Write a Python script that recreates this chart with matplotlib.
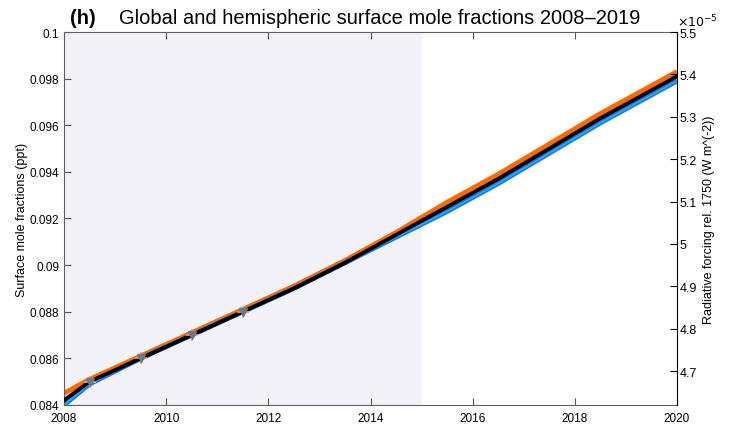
import numpy as np
from matplotlib import pyplot as plt
from matplotlib.ticker import FuncFormatter

plt.rcParams['font.family'] = ['Liberation Sans', 'DejaVu Sans']

# annual-ish model output (ppt)
years = [2008, 2008.5, 2009.5, 2010.5, 2011.5, 2012.5, 2013.5, 2014.5,
         2015.5, 2016.5, 2017.5, 2018.5, 2019.5, 2020]
glob = [0.0842, 0.0850, 0.0860, 0.0870, 0.0880, 0.0890, 0.0901, 0.0913,
        0.0925, 0.0937, 0.0950, 0.0963, 0.0975, 0.0981]
nh = [0.0845, 0.0851, 0.0861, 0.0871, 0.0881, 0.0891, 0.0902, 0.0914,
      0.0927, 0.0939, 0.0952, 0.0965, 0.0977, 0.0983]
sh = [0.0840, 0.0849, 0.0860, 0.0870, 0.0880, 0.0890, 0.0901, 0.0912,
      0.0923, 0.0935, 0.0948, 0.0961, 0.0973, 0.0979]

# observations
obs_years = [2008.5, 2009.5, 2010.5, 2011.5]
obs_vals = [0.0850, 0.0860, 0.0870, 0.0880]

rad_eff = 0.00055  # W m^-2 per ppt

fig = plt.figure(figsize=(7.31, 4.27), dpi=100)
ax = fig.add_axes([0.0876, 0.0492, 0.8386, 0.8735])

ax.axvspan(2008, 2015, color='#f3f2f8', lw=0, zorder=0)

ax.plot(years, nh, color='#ff6a00', lw=3.5, solid_capstyle='butt', zorder=2)
ax.plot(years, sh, color='#1a7ae8', lw=3.5, solid_capstyle='butt', zorder=2)
ax.plot(years, sh, color='#2ab0f0', lw=1, zorder=2)
ax.plot(years, glob, color='black', lw=2.8, zorder=3)

ax.plot(obs_years, obs_vals, '+', color='#f0a070', ms=9, mew=1.2, zorder=4)
ax.plot(obs_years, obs_vals, 'v', color='#6a7888', ms=6, zorder=5)

ax.set_xlim(2008, 2020)
ax.set_ylim(0.084, 0.1)
ax.set_xticks(np.arange(2008, 2021, 2))
ax.set_yticks(np.arange(0.084, 0.1001, 0.002))
ax.yaxis.set_major_formatter(FuncFormatter(lambda v, p: '%g' % round(v, 4)))
ax.tick_params(direction='in', labelsize=8.5, length=5, color='#555555',
               top=True, right=False)
ax.tick_params(axis='x', pad=5)
for s in ['left', 'top', 'bottom']:
    ax.spines[s].set_color('#606060')
ax.spines['right'].set_visible(False)
ax.set_ylabel('Surface mole fractions (ppt)', fontsize=9)
ax.yaxis.set_label_coords(-0.058, 0.5)

ax2 = ax.twinx()
ax2.set_ylim(0.084 * rad_eff / 1e-5, 0.1 * rad_eff / 1e-5)
ax2.set_yticks(np.arange(4.7, 5.501, 0.1))
ax2.yaxis.set_major_formatter(FuncFormatter(lambda v, p: '%g' % round(v, 2)))
ax2.tick_params(direction='in', labelsize=9, length=5, pad=2)
for s in ['left', 'top', 'bottom']:
    ax2.spines[s].set_visible(False)
ax2.spines['right'].set_color('black')
ax2.set_ylabel('Radiative forcing rel. 1750 (W m^(-2))', fontsize=9)
ax2.yaxis.set_label_coords(1.042, 0.5)
ax2.text(1.0, 1.008, r'$\times10^{-5}$', transform=ax2.transAxes,
         fontsize=9, ha='left', va='bottom')

fig.text(0.096, 0.943, '(h)', fontsize=14.5, fontweight='bold')
fig.text(0.163, 0.943, 'Global and hemispheric surface mole fractions 2008\u20132019',
         fontsize=14.5)

fig.savefig('out.png', dpi=100)
